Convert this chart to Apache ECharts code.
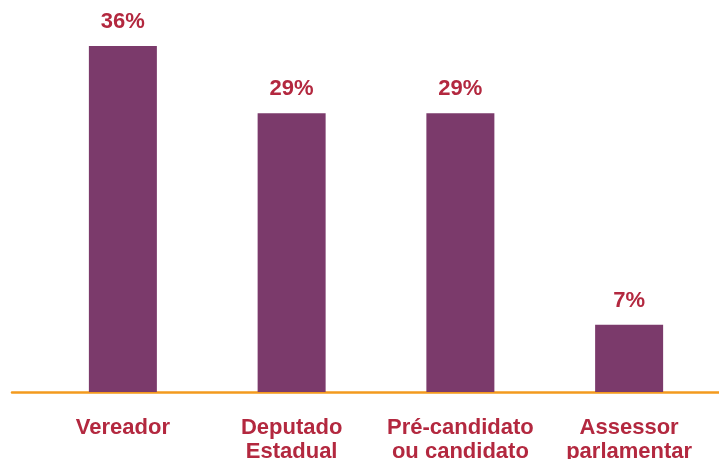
<!DOCTYPE html>
<html>
<head>
<meta charset="utf-8">
<script src="https://cdn.jsdelivr.net/npm/echarts@6/dist/echarts.min.js"></script>
<style>
  html, body { margin: 0; padding: 0; background: #fff; }
  #chart { width: 719px; height: 459px; }
</style>
</head>
<body>
<div id="chart"></div>
<script>
const categories = ['Vereador', 'Deputado\nEstadual', 'Pré-candidato\nou candidato', 'Assessor\nparlamentar']
const values = [36, 29, 29, 7]

const red = '#B3283F'
const purple = '#7B3A6B'
const orange = '#F39A1E'

const chart = echarts.init(document.getElementById('chart'))

const option = {
  animation: false,
  grid: [
    { left: 38.5, right: 5.5, top: 7.6, bottom: 67, outerBoundsMode: 'none' },
    { left: 12, right: 0, top: 7.6, bottom: 67, outerBoundsMode: 'none' }
  ],
  xAxis: [
    {
      type: 'category',
      data: categories,
      gridIndex: 0,
      axisLine: { show: false },
      axisTick: { show: false },
      axisLabel: {
        color: red,
        fontFamily: 'Liberation Sans',
        fontWeight: 'bold',
        fontSize: 22,
        lineHeight: 24,
        margin: 24,
        interval: 0
      }
    },
    {
      type: 'category',
      data: [''],
      gridIndex: 1,
      axisLine: { show: true, lineStyle: { color: orange, width: 2.5 } },
      axisTick: { show: false },
      axisLabel: { show: false }
    }
  ],
  yAxis: [
    { type: 'value', min: 0, max: 40, gridIndex: 0, show: false },
    { type: 'value', min: 0, max: 40, gridIndex: 1, show: false }
  ],
  series: [
    {
      type: 'bar',
      data: values,
      barWidth: 68,
      itemStyle: { color: purple },
      label: {
        show: true,
        position: 'top',
        distance: 13,
        formatter: '{c}%',
        color: red,
        fontFamily: 'Liberation Sans',
        fontWeight: 'bold',
        fontSize: 22
      }
    }
  ]
}

chart.setOption(option)
</script>
</body>
</html>
